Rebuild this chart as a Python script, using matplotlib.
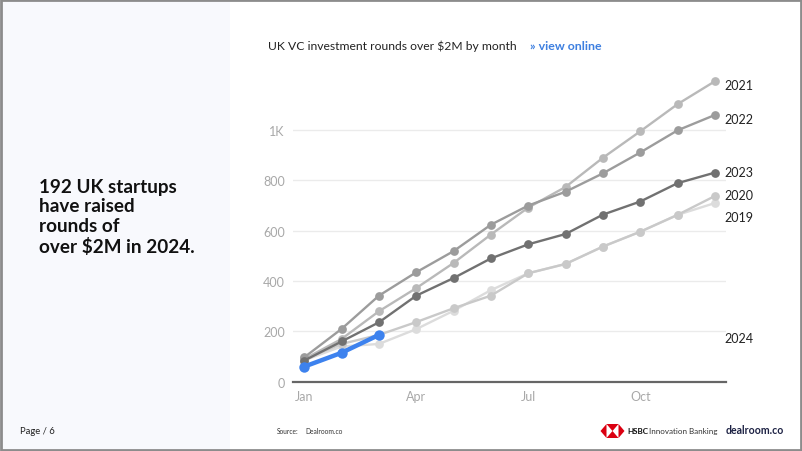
import matplotlib
matplotlib.use("Agg")
import matplotlib.pyplot as plt
from matplotlib.patches import Rectangle, Polygon

plt.rcParams['font.family'] = ['Lato', 'DejaVu Sans']

months = ["Jan", "Feb", "Mar", "Apr", "May", "Jun", "Jul", "Aug", "Sep", "Oct", "Nov", "Dec"]
tick_months = ["Jan", "Apr", "Jul", "Oct"]
y_ticks = [0, 200, 400, 600, 800, 1000]
y_tick_labels = ["0", "200", "400", "600", "800", "1K"]

s2019 = [85, 140, 150, 209, 282, 364, 431, 468, 537, 596, 663, 710]
s2020 = [90, 150, 186, 237, 292, 342, 431, 468, 537, 596, 663, 738]
s2021 = [90, 170, 280, 372, 472, 585, 692, 774, 890, 995, 1103, 1194]
s2022 = [97, 210, 342, 435, 519, 624, 700, 755, 828, 911, 999, 1060]
s2023 = [84, 160, 236, 342, 412, 490, 546, 587, 664, 716, 789, 831]
s2024 = [60, 115, 186]

series = [
    ("2019", s2019, "#dcdcdc"),
    ("2020", s2020, "#c9c9c9"),
    ("2021", s2021, "#b9b9b9"),
    ("2022", s2022, "#9c9c9c"),
    ("2023", s2023, "#717171"),
]
# label vertical positions (layout, in data units)
label_y = {"2021": 1180, "2022": 1045, "2023": 832, "2020": 742, "2019": 655, "2024": 174}

fig = plt.figure(figsize=(8.02, 4.52), dpi=100)
fig.patch.set_facecolor("white")

# left panel background
fig.patches.append(Rectangle((0, 0), 230 / 802, 1, transform=fig.transFigure,
                             facecolor="#f8f9fd", edgecolor="none", zorder=0))
# border
fig.patches.append(Rectangle((0.001, 0.002), 0.998, 0.996, transform=fig.transFigure,
                             facecolor="none", edgecolor="#8c8c8c", linewidth=2, zorder=10))

ax = fig.add_axes([293.3 / 802, 69.3 / 452, (725.7 - 293.3) / 802, (382.7 - 70.7) / 452])
ax.set_facecolor("none")
x = list(range(len(months)))

for name, vals, col in series:
    ax.plot(x[:len(vals)], vals, color=col, lw=1.7, marker="o", ms=6.3,
            markeredgewidth=0, zorder=3)
ax.plot(x[:len(s2024)], s2024, color="#3d82ee", lw=3.2, marker="o", ms=7.5,
        markeredgewidth=0, zorder=5)

for name, yy in label_y.items():
    ax.text(11.26, yy, name, fontsize=9, color="#222222", va="center", ha="left",
            clip_on=False)

ax.set_xlim(-0.295, 11.29)
ax.set_ylim(0, 1240)
ax.set_yticks(y_ticks)
ax.set_yticklabels(y_tick_labels)
ax.set_xticks([months.index(m) for m in tick_months])
ax.set_xticklabels(tick_months)
ax.tick_params(axis="both", length=0, labelsize=9, labelcolor="#a8a8a8")
ax.tick_params(axis="y", pad=6)
ax.tick_params(axis="x", pad=6)
ax.grid(axis="y", color="#ebebeb", lw=1, zorder=0)
for sp in ["top", "right", "left"]:
    ax.spines[sp].set_visible(False)
ax.spines["bottom"].set_color("#666666")
ax.spines["bottom"].set_linewidth(1.6)
ax.spines["bottom"].set_zorder(6)

# title
fig.text(268 / 802, 1 - 46 / 452, "UK VC investment rounds over $2M by month", fontsize=8.7,
         color="#222222", va="center", ha="left")
fig.text(602 / 802, 1 - 46 / 452, "» view online", fontsize=8.9, color="#3d7fe0",
         fontweight="bold", va="center", ha="right")

# headline
fig.text(39 / 802, 1 - 217.5 / 452, "192 UK startups\nhave raised\nrounds of\nover $2M in 2024.",
         fontsize=13.6, fontweight="bold", color="#111111", va="center", ha="left",
         linespacing=1.2)

# footer
fig.text(20 / 802, 1 - 432 / 452, "Page / 6", fontsize=6.8, color="#222222", va="center")
fig.text(277 / 802, 1 - 432 / 452, "Source:", fontsize=4.8, color="#333333", va="center")
fig.text(305 / 802, 1 - 432 / 452, "Dealroom.co", fontsize=4.8, color="#333333", va="center")

# HSBC logo
cx, cy, w, h = 612.5, 432, 24, 14
def P(px, py):
    return (px / 802, 1 - py / 452)
red = "#db0011"
tris = [
    [(cx - w / 2, cy), (cx - w / 4, cy - h / 2), (cx - w / 4, cy + h / 2)],
    [(cx + w / 2, cy), (cx + w / 4, cy - h / 2), (cx + w / 4, cy + h / 2)],
    [(cx - w / 4, cy - h / 2), (cx + w / 4, cy - h / 2), (cx, cy)],
    [(cx - w / 4, cy + h / 2), (cx + w / 4, cy + h / 2), (cx, cy)],
]
for t in tris:
    fig.patches.append(Polygon([P(*p) for p in t], closed=True, transform=fig.transFigure,
                               facecolor=red, edgecolor="none", zorder=5))
fig.text(627 / 802, 1 - 432 / 452, "HSBC", fontsize=5.8, fontweight="bold", color="#111111",
         va="center")
fig.text(649 / 802, 1 - 432 / 452, "Innovation Banking", fontsize=5.8, color="#333333",
         va="center")
fig.text(726 / 802, 1 - 431 / 452, "dealroom.co", fontsize=7.6, fontweight="bold",
         color="#1c2143", va="center")

fig.savefig("out.png", dpi=100)
